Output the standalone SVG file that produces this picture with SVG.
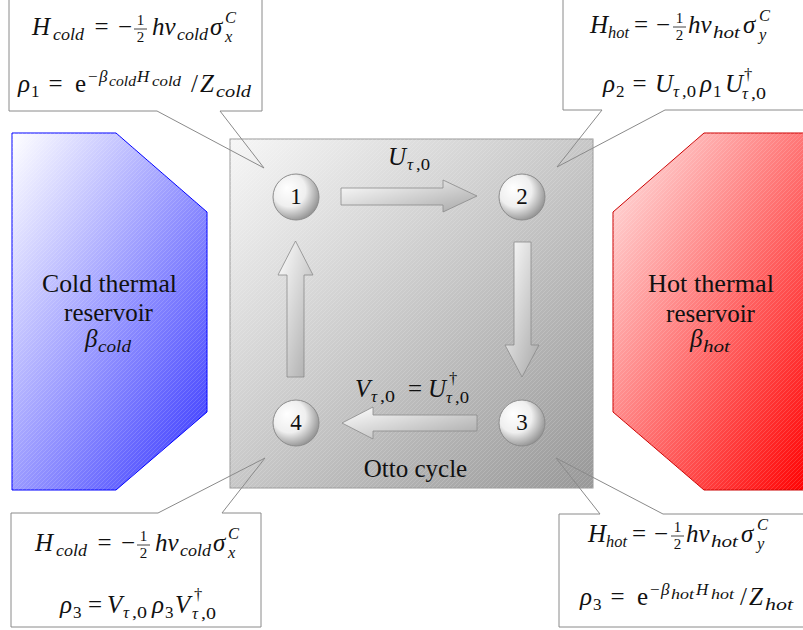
<svg xmlns="http://www.w3.org/2000/svg" width="803" height="630" viewBox="0 0 803 630">
<defs>
<style>
.m{font-family:"Liberation Serif",serif;font-style:italic;font-size:25px;fill:#111}
.t{font-family:"Liberation Serif",serif;font-size:25px;fill:#111}
.u{font-style:normal}
.s{font-size:17px}
.p{font-size:16.5px}
.ss{font-size:14px}
.f{font-size:15px;font-style:normal}
.callout{fill:none;stroke:#8a8a8a;stroke-width:1}
.bar{stroke:#111;stroke-width:0.8}
.arrow{fill:url(#gArrow);stroke:#8a8a8a;stroke-width:0.8}
.node{fill:url(#gBall);stroke:#8c8c8c;stroke-width:1}
.num{font-family:"Liberation Serif",serif;font-size:23px;fill:#111;text-anchor:middle}
</style>
<linearGradient id="gSquare" x1="0" y1="0" x2="1" y2="1">
<stop offset="0" stop-color="#f6f6f6"/><stop offset="1" stop-color="#989898"/>
</linearGradient>
<linearGradient id="gCold" x1="0" y1="0" x2="1" y2="1">
<stop offset="0" stop-color="#ffffff"/><stop offset="1" stop-color="#3535ff"/>
</linearGradient>
<linearGradient id="gHot" x1="0" y1="0" x2="1" y2="1">
<stop offset="0" stop-color="#ffe6e6"/><stop offset="1" stop-color="#ff0000"/>
</linearGradient>
<linearGradient id="gArrow" x1="0" y1="0" x2="1" y2="1">
<stop offset="0" stop-color="#ffffff"/><stop offset="1" stop-color="#a8a8a8"/>
</linearGradient>
<radialGradient id="gBall" cx="0.4" cy="0.4" r="0.65" fx="0.3" fy="0.3">
<stop offset="0" stop-color="#ffffff"/><stop offset="0.55" stop-color="#efefef"/><stop offset="1" stop-color="#8e8e8e"/>
</radialGradient>
<pattern id="hatch" patternUnits="userSpaceOnUse" width="4" height="4">
<path d="M-1,1 L1,-1 M0,4 L4,0 M3,5 L5,3" stroke="#ffffff" stroke-opacity="0.22" stroke-width="0.7"/>
</pattern>
</defs>
<rect width="803" height="630" fill="#ffffff"/>

<g id="reservoir-cold">
<path d="M12,133 L116,133 L207,212 L207,412 L116,490 L12,490 Z" fill="url(#gCold)" stroke="#0000ff" stroke-width="1"/>
<path d="M12,133 L116,133 L207,212 L207,412 L116,490 L12,490 Z" fill="url(#hatch)"/>
<text class="t" x="109.5" y="292" text-anchor="middle" textLength="135" lengthAdjust="spacingAndGlyphs">Cold thermal</text>
<text class="t" x="108.5" y="321" text-anchor="middle">reservoir</text>
<text class="m"><tspan x="85" y="347">β</tspan><tspan x="98" y="352" class="s" textLength="33" lengthAdjust="spacingAndGlyphs">cold</tspan></text>
</g>

<g id="reservoir-hot">
<path d="M704,133 L810,133 L810,490 L704,490 L613,412 L613,212 Z" fill="url(#gHot)" stroke="#cc0000" stroke-width="1"/>
<path d="M704,133 L810,133 L810,490 L704,490 L613,412 L613,212 Z" fill="url(#hatch)"/>
<text class="t" x="711" y="292" text-anchor="middle" textLength="126" lengthAdjust="spacingAndGlyphs">Hot thermal</text>
<text class="t" x="710.5" y="322" text-anchor="middle">reservoir</text>
<text class="m"><tspan x="690" y="347">β</tspan><tspan x="703" y="352" class="s" textLength="27" lengthAdjust="spacingAndGlyphs">hot</tspan></text>
</g>

<g id="otto-cycle">
<rect x="230" y="139" width="363" height="349" fill="url(#gSquare)" stroke="#9a9a9a" stroke-width="1"/>
<rect x="230" y="139" width="363" height="349" fill="url(#hatch)"/>
<text class="t" x="415.5" y="477" text-anchor="middle">Otto cycle</text>
</g>

<g id="node-1"><circle class="node" cx="296" cy="197" r="23"/><text class="num" x="296" y="204">1</text></g>
<g id="node-2"><circle class="node" cx="522" cy="197" r="23"/><text class="num" x="522" y="204">2</text></g>
<g id="node-3"><circle class="node" cx="522" cy="423" r="23"/><text class="num" x="522" y="430">3</text></g>
<g id="node-4"><circle class="node" cx="296" cy="423" r="23"/><text class="num" x="296" y="430">4</text></g>

<g id="connectors">
<polygon class="arrow" points="341,188 443,188 443,180 477,196 443,212 443,205 341,205"/>
<polygon class="arrow" points="514,242 531,242 531,345 539,345 522,377 505,345 514,345"/>
<polygon class="arrow" points="477,415 373,415 373,407 342,423 373,439 373,431 477,431"/>
<polygon class="arrow" points="287,377 287,275 278,275 295.5,241 313,275 304,275 304,377"/>
<text class="m"><tspan x="388" y="165">U</tspan><tspan x="407" y="170" class="s">τ</tspan><tspan x="416" y="170" class="s u" textLength="14" lengthAdjust="spacingAndGlyphs">,0</tspan></text>
<text class="m"><tspan x="355" y="397">V</tspan><tspan x="371" y="402" class="s">τ</tspan><tspan x="380" y="402" class="s u" textLength="15" lengthAdjust="spacingAndGlyphs">,0</tspan><tspan x="415" y="397" class="u" text-anchor="middle">=</tspan><tspan x="428" y="397">U</tspan><tspan x="449" y="384" class="p u">†</tspan><tspan x="446" y="403" class="p">τ</tspan><tspan x="455" y="403" class="p u" textLength="14" lengthAdjust="spacingAndGlyphs">,0</tspan></text>
</g>

<g id="callout-1">
<path class="callout" d="M9,-5 L262,-5 L262,111 L220,111 L264,168 L157,111 L9,111 Z"/>
<text class="m"><tspan x="32" y="35">H</tspan><tspan x="53" y="40" class="s" textLength="31" lengthAdjust="spacingAndGlyphs">cold</tspan><tspan x="101.5" y="35" class="u" text-anchor="middle">=</tspan><tspan x="125" y="35" class="u" text-anchor="middle">−</tspan><tspan x="140.5" y="25" class="f" text-anchor="middle">1</tspan><tspan x="140.5" y="42" class="f" text-anchor="middle">2</tspan><tspan x="152" y="35">hν</tspan><tspan x="177" y="40" class="s" textLength="31" lengthAdjust="spacingAndGlyphs">cold</tspan><tspan x="210" y="35">σ</tspan><tspan x="225" y="23" class="p">C</tspan><tspan x="225" y="42" class="p">x</tspan></text>
<line class="bar" x1="134" y1="29" x2="147" y2="29"/>
<text class="m"><tspan x="18" y="92">ρ</tspan><tspan x="31" y="97" class="s u">1</tspan><tspan x="55.5" y="92" class="u" text-anchor="middle">=</tspan><tspan x="75" y="92" class="u">e</tspan><tspan x="88" y="82" class="s u">−</tspan><tspan x="99" y="82" class="s">β</tspan><tspan x="109" y="86" class="ss" textLength="27" lengthAdjust="spacingAndGlyphs">cold</tspan><tspan x="137" y="82" class="s">H</tspan><tspan x="152" y="86" class="ss" textLength="29" lengthAdjust="spacingAndGlyphs">cold</tspan><tspan x="191" y="92" class="u">/</tspan><tspan x="200" y="92">Z</tspan><tspan x="216" y="97" class="s" textLength="35" lengthAdjust="spacingAndGlyphs">cold</tspan></text>
</g>

<g id="callout-2">
<path class="callout" d="M563,-5 L810,-5 L810,110 L665,110 L557,167 L602,110 L563,110 Z"/>
<text class="m"><tspan x="590" y="33">H</tspan><tspan x="608" y="38" class="s" textLength="21" lengthAdjust="spacingAndGlyphs">hot</tspan><tspan x="641" y="33" class="u" text-anchor="middle">=</tspan><tspan x="663" y="33" class="u" text-anchor="middle">−</tspan><tspan x="679.5" y="23" class="f" text-anchor="middle">1</tspan><tspan x="679.5" y="40" class="f" text-anchor="middle">2</tspan><tspan x="688" y="33">hν</tspan><tspan x="713" y="38" class="s" textLength="27" lengthAdjust="spacingAndGlyphs">hot</tspan><tspan x="743" y="33">σ</tspan><tspan x="759" y="21" class="p">C</tspan><tspan x="759" y="40" class="p">y</tspan></text>
<line class="bar" x1="673" y1="27" x2="686" y2="27"/>
<text class="m"><tspan x="603" y="92">ρ</tspan><tspan x="616" y="97" class="s u">2</tspan><tspan x="639.5" y="92" class="u" text-anchor="middle">=</tspan><tspan x="655" y="92">U</tspan><tspan x="673" y="97" class="s">τ</tspan><tspan x="682" y="97" class="s u" textLength="14" lengthAdjust="spacingAndGlyphs">,0</tspan><tspan x="700" y="92">ρ</tspan><tspan x="713" y="97" class="s u">1</tspan><tspan x="725" y="92">U</tspan><tspan x="744" y="80" class="p u">†</tspan><tspan x="742" y="99" class="p">τ</tspan><tspan x="751" y="99" class="p u" textLength="15" lengthAdjust="spacingAndGlyphs">,0</tspan></text>
</g>

<g id="callout-4">
<path class="callout" d="M11,513 L158,513 L265,458 L222,513 L261,513 L261,627 L11,627 Z"/>
<text class="m"><tspan x="35" y="551">H</tspan><tspan x="56" y="556" class="s" textLength="31" lengthAdjust="spacingAndGlyphs">cold</tspan><tspan x="104.5" y="551" class="u" text-anchor="middle">=</tspan><tspan x="128" y="551" class="u" text-anchor="middle">−</tspan><tspan x="143.5" y="541" class="f" text-anchor="middle">1</tspan><tspan x="143.5" y="558" class="f" text-anchor="middle">2</tspan><tspan x="155" y="551">hν</tspan><tspan x="180" y="556" class="s" textLength="31" lengthAdjust="spacingAndGlyphs">cold</tspan><tspan x="213" y="551">σ</tspan><tspan x="228" y="539" class="p">C</tspan><tspan x="228" y="558" class="p">x</tspan></text>
<line class="bar" x1="137" y1="545" x2="150" y2="545"/>
<text class="m"><tspan x="60" y="613">ρ</tspan><tspan x="73" y="618" class="s u">3</tspan><tspan x="95" y="613" class="u" text-anchor="middle">=</tspan><tspan x="107" y="613">V</tspan><tspan x="123" y="618" class="s">τ</tspan><tspan x="132" y="618" class="s u" textLength="15" lengthAdjust="spacingAndGlyphs">,0</tspan><tspan x="152" y="613">ρ</tspan><tspan x="165" y="618" class="s u">3</tspan><tspan x="175" y="613">V</tspan><tspan x="194" y="600" class="p u">†</tspan><tspan x="192" y="619" class="p">τ</tspan><tspan x="201" y="619" class="p u" textLength="15" lengthAdjust="spacingAndGlyphs">,0</tspan></text>
</g>

<g id="callout-3">
<path class="callout" d="M559,514 L600,514 L556,458 L663,514 L810,514 L810,627 L559,627 Z"/>
<text class="m"><tspan x="588" y="542">H</tspan><tspan x="606" y="547" class="s" textLength="21" lengthAdjust="spacingAndGlyphs">hot</tspan><tspan x="639" y="542" class="u" text-anchor="middle">=</tspan><tspan x="661" y="542" class="u" text-anchor="middle">−</tspan><tspan x="677.5" y="532" class="f" text-anchor="middle">1</tspan><tspan x="677.5" y="549" class="f" text-anchor="middle">2</tspan><tspan x="686" y="542">hν</tspan><tspan x="711" y="547" class="s" textLength="27" lengthAdjust="spacingAndGlyphs">hot</tspan><tspan x="741" y="542">σ</tspan><tspan x="757" y="530" class="p">C</tspan><tspan x="757" y="549" class="p">y</tspan></text>
<line class="bar" x1="671" y1="536" x2="684" y2="536"/>
<text class="m"><tspan x="580" y="605">ρ</tspan><tspan x="593" y="610" class="s u">3</tspan><tspan x="617.5" y="605" class="u" text-anchor="middle">=</tspan><tspan x="637" y="605" class="u">e</tspan><tspan x="650" y="595" class="s u">−</tspan><tspan x="661" y="595" class="s">β</tspan><tspan x="671" y="599" class="ss" textLength="23" lengthAdjust="spacingAndGlyphs">hot</tspan><tspan x="696" y="595" class="s">H</tspan><tspan x="711" y="599" class="ss" textLength="23" lengthAdjust="spacingAndGlyphs">hot</tspan><tspan x="740" y="605" class="u">/</tspan><tspan x="749" y="605">Z</tspan><tspan x="765" y="610" class="s" textLength="28" lengthAdjust="spacingAndGlyphs">hot</tspan></text>
</g>
</svg>
